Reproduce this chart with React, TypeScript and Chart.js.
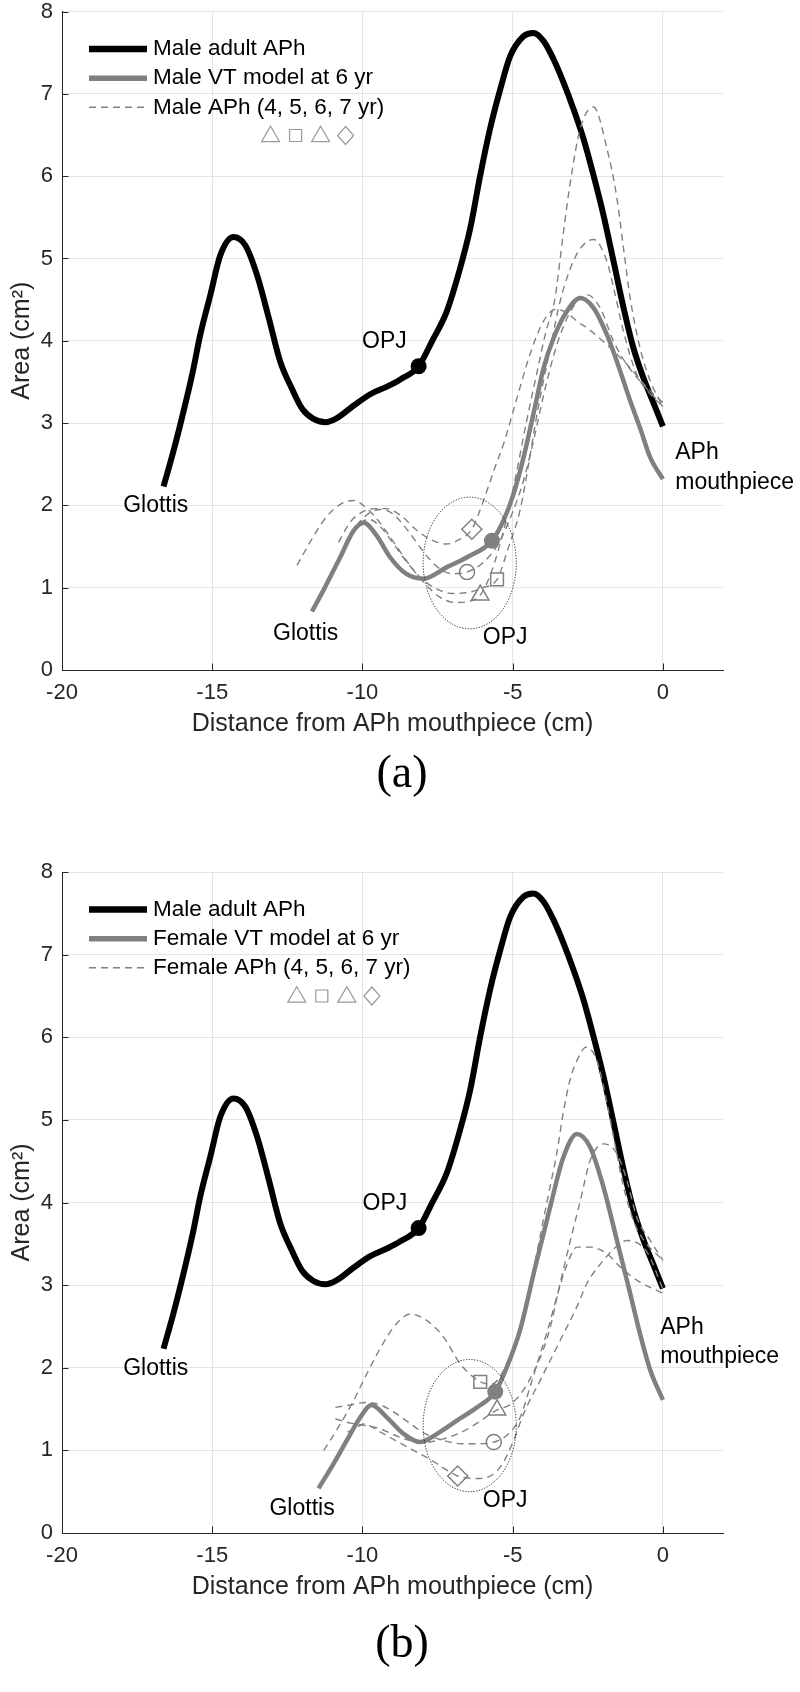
import React, { useEffect, useRef } from 'react';
import { Chart, registerables } from 'chart.js';

Chart.register(...registerables);

type Pt = [number, number];

// ---------- axes ----------
const xTickValues = [-20, -15, -10, -5, 0];
const yTickValues = [0, 1, 2, 3, 4, 5, 6, 7, 8];
const xRange: Pt = [-20, 2];
const yRange: Pt = [0, 8];

// ---------- shared adult curve ----------
const maleAdultAPh: Pt[] = [
  [-16.62, 2.23], [-16.29, 2.66], [-15.95, 3.15], [-15.65, 3.62], [-15.4, 4.07], [-15.06, 4.56],
  [-14.73, 5.04], [-14.29, 5.26], [-13.9, 5.16], [-13.51, 4.8], [-13.12, 4.28], [-12.74, 3.75],
  [-12.35, 3.42], [-12.0, 3.17], [-11.63, 3.05], [-11.23, 3.01], [-10.85, 3.06], [-10.3, 3.21],
  [-9.74, 3.35], [-9.2, 3.44], [-8.74, 3.53], [-8.13, 3.69], [-7.69, 3.99], [-7.19, 4.36],
  [-6.75, 4.88], [-6.41, 5.37], [-6.08, 6.01], [-5.75, 6.58], [-5.41, 7.06], [-5.08, 7.46],
  [-4.64, 7.7], [-4.31, 7.74], [-3.97, 7.64], [-3.64, 7.42], [-3.31, 7.14], [-2.98, 6.82],
  [-2.64, 6.45], [-2.31, 6.01], [-1.98, 5.53], [-1.64, 4.96], [-1.31, 4.4], [-0.98, 3.91],
  [-0.65, 3.55], [-0.32, 3.25], [0, 2.96],
];
const maleAdultOPJ: Pt = [-8.13, 3.69];

// ---------- panel (a): male ----------
const maleVTModel: Pt[] = [
  [-11.68, 0.71], [-11.24, 1.01], [-10.74, 1.37], [-10.3, 1.69], [-9.96, 1.79], [-9.52, 1.63],
  [-9.08, 1.37], [-8.55, 1.17], [-7.97, 1.11], [-7.19, 1.25], [-6.52, 1.37], [-5.69, 1.57],
  [-5.3, 1.82], [-4.97, 2.14], [-4.64, 2.58], [-4.31, 3.11], [-3.97, 3.67], [-3.64, 4.03],
  [-3.19, 4.36], [-2.75, 4.52], [-2.31, 4.4], [-1.86, 4.07], [-1.42, 3.63], [-1.09, 3.27],
  [-0.76, 2.94], [-0.42, 2.58], [0, 2.32],
];
const maleVTOPJ: Pt = [-5.69, 1.57];
const maleAPh4yr: Pt[] = [
  [-12.18, 1.27], [-11.7, 1.58], [-11.2, 1.86], [-10.7, 2.02], [-10.3, 2.06], [-9.9, 1.98],
  [-9.4, 1.78], [-8.9, 1.52], [-8.4, 1.26], [-7.9, 1.04], [-7.4, 0.88], [-6.9, 0.82], [-6.5, 0.83],
  [-6.08, 0.91], [-5.7, 1.2], [-5.3, 1.7], [-4.9, 2.35], [-4.55, 3.0], [-4.2, 3.6], [-3.9, 4.1],
  [-3.6, 4.5], [-3.31, 5.32], [-3.08, 5.93], [-2.75, 6.58], [-2.31, 6.84], [-1.86, 6.33],
  [-1.53, 5.73], [-1.31, 5.12], [-1.09, 4.52], [-0.76, 3.91], [-0.42, 3.51], [0, 3.2],
];
const maleAPh5yr: Pt[] = [
  [-10.9, 1.28], [-10.5, 1.55], [-10.1, 1.77], [-9.8, 1.83], [-9.4, 1.74], [-9.0, 1.55],
  [-8.5, 1.3], [-8.0, 1.1], [-7.5, 0.98], [-7.0, 0.93], [-6.5, 0.94], [-6.0, 1.0], [-5.52, 1.1],
  [-5.14, 1.49], [-4.75, 1.95], [-4.47, 2.5], [-4.19, 3.11], [-3.75, 3.91], [-3.42, 4.48],
  [-3.08, 4.88], [-2.75, 5.12], [-2.31, 5.23], [-1.86, 4.96], [-1.64, 4.64], [-1.31, 4.11],
  [-0.87, 3.59], [-0.31, 3.31], [0, 3.2],
];
const maleAPh6yr: Pt[] = [
  [-10.6, 1.5], [-10.2, 1.75], [-9.8, 1.9], [-9.4, 1.95], [-9.0, 1.9], [-8.5, 1.7], [-8.0, 1.45],
  [-7.5, 1.25], [-7.0, 1.17], [-6.52, 1.19], [-6.0, 1.3], [-5.5, 1.52], [-5.0, 1.92],
  [-4.64, 2.3], [-4.31, 2.78], [-3.86, 3.51], [-3.42, 4.07], [-2.86, 4.48], [-2.53, 4.56],
  [-2.09, 4.4], [-1.64, 3.99], [-1.2, 3.71], [-0.76, 3.51], [0, 3.2],
];
const maleAPh7yr: Pt[] = [
  [-10.8, 1.55], [-10.4, 1.8], [-10.0, 1.92], [-9.6, 1.96], [-9.2, 1.96], [-8.7, 1.87],
  [-8.2, 1.7], [-7.7, 1.58], [-7.2, 1.53], [-6.8, 1.58], [-6.36, 1.71], [-5.97, 2.06],
  [-5.6, 2.45], [-5.3, 2.75], [-4.86, 3.3], [-4.5, 3.75], [-4.19, 4.07], [-3.9, 4.28],
  [-3.6, 4.38], [-3.3, 4.36], [-2.86, 4.24], [-2.4, 4.12], [-1.86, 3.95], [-1.09, 3.67],
  [-0.5, 3.42], [0, 3.25],
];
const maleAPhOPJ: Pt[] = [[-6.08, 0.91], [-5.52, 1.1], [-6.52, 1.19], [-6.36, 1.71]];

// ---------- panel (b): female ----------
const femaleVTModel: Pt[] = [
  [-11.46, 0.54], [-10.96, 0.84], [-10.52, 1.12], [-10.07, 1.4], [-9.7, 1.55], [-9.19, 1.4],
  [-8.63, 1.2], [-8.08, 1.1], [-7.52, 1.2], [-6.86, 1.36], [-6.19, 1.52], [-5.58, 1.71],
  [-5.19, 2.01], [-4.75, 2.46], [-4.25, 3.22], [-3.75, 3.95], [-3.31, 4.55], [-2.86, 4.83],
  [-2.42, 4.67], [-1.98, 4.19], [-1.53, 3.54], [-1.09, 2.9], [-0.76, 2.41], [-0.42, 1.97],
  [0, 1.61],
];
const femaleVTOPJ: Pt = [-5.58, 1.71];
const femaleAPh4yr: Pt[] = [
  [-10.9, 1.38], [-10.4, 1.33], [-9.9, 1.3], [-9.4, 1.26], [-8.9, 1.18], [-8.4, 1.12],
  [-7.9, 1.1], [-7.3, 1.14], [-6.7, 1.22], [-6.1, 1.35], [-5.52, 1.49], [-5.1, 1.55],
  [-4.7, 1.7], [-4.3, 1.95], [-4.0, 2.2], [-3.75, 2.49], [-3.42, 3.02], [-3.08, 3.54],
  [-2.75, 4.02], [-2.42, 4.51], [-1.98, 4.71], [-1.53, 4.59], [-1.2, 4.27], [-0.87, 3.82],
  [-0.42, 3.54], [0, 3.3],
];
const femaleAPh5yr: Pt[] = [
  [-11.29, 1.0], [-10.85, 1.25], [-10.3, 1.6], [-9.74, 2.01], [-9.19, 2.37], [-8.8, 2.56],
  [-8.41, 2.65], [-7.85, 2.57], [-7.3, 2.37], [-6.75, 2.05], [-6.08, 1.83], [-5.7, 1.8],
  [-5.3, 1.97], [-4.95, 2.27], [-4.6, 2.72], [-4.3, 3.2], [-4.0, 3.75], [-3.75, 4.2],
  [-3.53, 4.6], [-3.31, 5.1], [-3.08, 5.5], [-2.86, 5.72], [-2.55, 5.88], [-2.2, 5.72],
  [-1.86, 5.2], [-1.64, 4.79], [-1.31, 4.19], [-0.98, 3.78], [-0.65, 3.55], [0, 3.3],
];
const femaleAPh6yr: Pt[] = [
  [-10.9, 1.52], [-10.4, 1.55], [-9.9, 1.58], [-9.4, 1.55], [-8.9, 1.45], [-8.4, 1.32],
  [-7.9, 1.2], [-7.3, 1.12], [-6.7, 1.08], [-6.1, 1.08], [-5.63, 1.1], [-5.2, 1.18],
  [-4.75, 1.4], [-4.42, 1.77], [-4.1, 2.15], [-3.8, 2.5], [-3.5, 2.9], [-3.19, 3.25],
  [-2.86, 3.46], [-2.42, 3.46], [-1.86, 3.38], [-1.42, 3.22], [-0.87, 3.06], [0, 2.9],
];
const femaleAPh7yr: Pt[] = [
  [-10.5, 1.22], [-10.18, 1.28], [-9.96, 1.32], [-9.4, 1.22], [-8.8, 1.1], [-8.3, 1.0],
  [-7.7, 0.88], [-7.19, 0.76], [-6.83, 0.69], [-6.08, 0.66], [-5.41, 0.8], [-4.97, 1.12],
  [-4.64, 1.44], [-4.08, 1.85], [-3.42, 2.33], [-2.86, 2.74], [-2.53, 3.02], [-1.98, 3.3],
  [-1.6, 3.45], [-1.2, 3.54], [-0.53, 3.4], [0, 2.95],
];
const femaleAPhOPJ: Pt[] = [[-5.52, 1.49], [-6.08, 1.83], [-5.63, 1.1], [-6.83, 0.69]];

// ---------- annotations (data coordinates) ----------
const opjEllipse = [-6.43, 1.3, 1.55, 0.8]; // centre x, centre y, radius x, radius y
const maleNotes = { glottisAdult: [-16.88, 2.0], glottisChild: [-11.89, 0.44], opjAdult: [-9.27, 3.99], opjChild: [-5.25, 0.39], mouthpiece: [0.41, 2.64, 2.27] };
const femaleNotes = { glottisAdult: [-16.88, 1.99], glottisChild: [-12.01, 0.3], opjAdult: [-9.25, 3.99], opjChild: [-5.25, 0.39], mouthpiece: [-0.09, 2.48, 2.14] };

const FONT = "'Liberation Sans', Arial, Helvetica, sans-serif";
const AXIS = '#262626';
const GRAY = '#808080';
const GRID = '#e4e4e4';
const plotMarkers = ['triangle', 'rect', 'circle', 'rectRot'];
const markerRadius = [10, 9, 7.5, 10];

interface PanelSpec {
  vtLabel: string;
  aphLabel: string;
  vt: Pt[];
  vtOPJ: Pt;
  aph: Pt[][];
  aphOPJ: Pt[];
  notes: typeof maleNotes;
  padTop: number;
  padBottom: number;
}

const toXY = (a: Pt[]) => a.map(([x, y]) => ({ x, y }));

function drawLegendMarker(ctx: CanvasRenderingContext2D, kind: string, x: number, y: number) {
  ctx.beginPath();
  if (kind === 'tri') {
    const h = 15.5, w = 18;
    ctx.moveTo(x, y - h * 0.6);
    ctx.lineTo(x + w / 2, y + h * 0.4);
    ctx.lineTo(x - w / 2, y + h * 0.4);
    ctx.closePath();
  } else if (kind === 'sq') {
    ctx.rect(x - 6, y - 6, 12, 12);
  } else {
    ctx.moveTo(x, y - 9);
    ctx.lineTo(x + 8, y);
    ctx.lineTo(x, y + 9);
    ctx.lineTo(x - 8, y);
    ctx.closePath();
  }
  ctx.stroke();
}

function makeOverlay(p: PanelSpec) {
  return {
    id: 'overlay',
    afterDraw(chart: any) {
      const { ctx, chartArea: ca } = chart;
      const xs = chart.scales.x;
      const ys = chart.scales.y;
      const X = (v: number) => xs.getPixelForValue(v);
      const Y = (v: number) => ys.getPixelForValue(v);
      ctx.save();
      // inward tick marks
      ctx.strokeStyle = AXIS;
      ctx.lineWidth = 1;
      ctx.setLineDash([]);
      xTickValues.forEach((v) => {
        const px = Math.round(X(v)) + 0.5;
        ctx.beginPath();
        ctx.moveTo(px, ca.bottom);
        ctx.lineTo(px, ca.bottom - 6.5);
        ctx.stroke();
      });
      yTickValues.forEach((v) => {
        const py = Math.round(Y(v)) + 0.5;
        ctx.beginPath();
        ctx.moveTo(ca.left, py);
        ctx.lineTo(ca.left + 6.5, py);
        ctx.stroke();
      });
      // OPJ ellipse
      const [ecx, ecy, erx, ery] = opjEllipse;
      ctx.beginPath();
      ctx.setLineDash([1.2, 1.6]);
      ctx.lineWidth = 1;
      ctx.strokeStyle = '#1a1a1a';
      ctx.ellipse(X(ecx), Y(ecy), X(ecx + erx) - X(ecx), Y(ecy) - Y(ecy + ery), 0, 0, Math.PI * 2);
      ctx.stroke();
      ctx.setLineDash([]);
      // text annotations
      const n = p.notes;
      ctx.fillStyle = '#000';
      ctx.font = `23px ${FONT}`;
      ctx.textBaseline = 'middle';
      ctx.textAlign = 'center';
      ctx.fillText('Glottis', X(n.glottisAdult[0]), Y(n.glottisAdult[1]));
      ctx.fillText('Glottis', X(n.glottisChild[0]), Y(n.glottisChild[1]));
      ctx.fillText('OPJ', X(n.opjAdult[0]), Y(n.opjAdult[1]));
      ctx.fillText('OPJ', X(n.opjChild[0]), Y(n.opjChild[1]));
      ctx.textAlign = 'left';
      ctx.fillText('APh', X(n.mouthpiece[0]), Y(n.mouthpiece[1]));
      ctx.fillText('mouthpiece', X(n.mouthpiece[0]), Y(n.mouthpiece[2]));
      // legend
      const lx0 = ca.left + 27;
      const lx1 = ca.left + 85;
      const tx = ca.left + 91;
      const rows = [ca.top + 37.5, ca.top + 66.7, ca.top + 95.8];
      ctx.lineCap = 'butt';
      ctx.strokeStyle = '#000';
      ctx.lineWidth = 6.5;
      ctx.beginPath(); ctx.moveTo(lx0, rows[0]); ctx.lineTo(lx1, rows[0]); ctx.stroke();
      ctx.strokeStyle = GRAY;
      ctx.lineWidth = 5.5;
      ctx.beginPath(); ctx.moveTo(lx0, rows[1]); ctx.lineTo(lx1, rows[1]); ctx.stroke();
      ctx.lineWidth = 1.4;
      ctx.setLineDash([7, 5]);
      ctx.beginPath(); ctx.moveTo(lx0, rows[2]); ctx.lineTo(lx1, rows[2]); ctx.stroke();
      ctx.setLineDash([]);
      ctx.font = `22.5px ${FONT}`;
      ctx.fillStyle = '#000';
      ctx.textAlign = 'left';
      ctx.fillText('Male adult APh', tx, rows[0]);
      ctx.fillText(p.vtLabel, tx, rows[1]);
      ctx.fillText(p.aphLabel, tx, rows[2]);
      // legend marker row under the ages
      const kinds = ['tri', 'sq', 'tri', 'dia'];
      ctx.strokeStyle = '#9a9a9a';
      ctx.lineWidth = 1.2;
      ['4', '5', '6', '7'].forEach((d, i) => {
        const idx = p.aphLabel.indexOf(d);
        const mx = tx + ctx.measureText(p.aphLabel.slice(0, idx)).width + ctx.measureText(d).width / 2;
        drawLegendMarker(ctx, kinds[i], mx, ca.top + 124);
      });
      ctx.restore();
    },
  };
}

function buildConfig(p: PanelSpec): any {
  const datasets: any[] = [];
  datasets.push({
    data: toXY(maleAdultAPh), borderColor: '#000', borderWidth: 6, pointRadius: 0,
    cubicInterpolationMode: 'monotone', order: 10, borderJoinStyle: 'round',
  });
  datasets.push({
    data: toXY(p.vt), borderColor: GRAY, borderWidth: 4.5, pointRadius: 0,
    cubicInterpolationMode: 'monotone', order: 9, borderJoinStyle: 'round',
  });
  p.aph.forEach((c) => {
    datasets.push({
      data: toXY(c), borderColor: GRAY, borderWidth: 1.4, borderDash: [7, 5], pointRadius: 0,
      cubicInterpolationMode: 'monotone', order: 8,
    });
  });
  datasets.push({
    data: toXY([maleAdultOPJ]), showLine: false, pointRadius: 8, pointBackgroundColor: '#000',
    pointBorderWidth: 0, order: 2,
  });
  datasets.push({
    data: toXY([p.vtOPJ]), showLine: false, pointRadius: 8, pointBackgroundColor: GRAY,
    pointBorderWidth: 0, order: 2,
  });
  p.aphOPJ.forEach((pt, i) => {
    datasets.push({
      data: toXY([pt]), showLine: false, pointStyle: plotMarkers[i], pointRadius: markerRadius[i],
      pointBorderColor: GRAY, pointBackgroundColor: 'rgba(0,0,0,0)', pointBorderWidth: 1.5, order: 1,
    });
  });

  return {
    type: 'line',
    data: { datasets },
    options: {
      responsive: false,
      animation: false,
      devicePixelRatio: 1,
      layout: { padding: { left: 0, top: p.padTop, right: 77, bottom: p.padBottom } },
      plugins: { legend: { display: false }, tooltip: { enabled: false } },
      elements: { line: { tension: 0 } },
      scales: {
        x: {
          type: 'linear',
          min: xRange[0],
          max: xRange[1],
          afterBuildTicks: (ax: any) => { ax.ticks = xTickValues.map((v) => ({ value: v })); },
          afterFit: (ax: any) => { ax.height = 69; ax.paddingLeft = 0; ax.paddingRight = 0; },
          ticks: { font: { family: FONT, size: 22 }, color: AXIS, padding: 10, maxRotation: 0, autoSkip: false },
          grid: { color: GRID, lineWidth: 1, drawTicks: false },
          border: { display: true, color: AXIS, width: 1 },
          title: { display: true, text: 'Distance from APh mouthpiece (cm)', font: { family: FONT, size: 25 }, color: AXIS, padding: { top: 0, bottom: 0 } },
        },
        y: {
          type: 'linear',
          min: yRange[0],
          max: yRange[1],
          afterBuildTicks: (ax: any) => { ax.ticks = yTickValues.map((v) => ({ value: v })); },
          afterFit: (ax: any) => { ax.width = 62; ax.paddingTop = 0; ax.paddingBottom = 0; },
          ticks: { font: { family: FONT, size: 22 }, color: AXIS, padding: 9, autoSkip: false },
          grid: { color: GRID, lineWidth: 1, drawTicks: false },
          border: { display: true, color: AXIS, width: 1 },
          title: { display: true, text: 'Area (cm²)', font: { family: FONT, size: 25 }, color: AXIS, padding: { top: 7, bottom: 7 } },
        },
      },
    },
    plugins: [makeOverlay(p)],
  };
}

const panelA: PanelSpec = {
  vtLabel: 'Male VT model at 6 yr',
  aphLabel: 'Male APh (4, 5, 6, 7 yr)',
  vt: maleVTModel,
  vtOPJ: maleVTOPJ,
  aph: [maleAPh4yr, maleAPh5yr, maleAPh6yr, maleAPh7yr],
  aphOPJ: maleAPhOPJ,
  notes: maleNotes,
  padTop: 9,
  padBottom: 107,
};

const panelB: PanelSpec = {
  vtLabel: 'Female VT model at 6 yr',
  aphLabel: 'Female APh (4, 5, 6, 7 yr)',
  vt: femaleVTModel,
  vtOPJ: femaleVTOPJ,
  aph: [femaleAPh4yr, femaleAPh5yr, femaleAPh6yr, femaleAPh7yr],
  aphOPJ: femaleAPhOPJ,
  notes: femaleNotes,
  padTop: 26,
  padBottom: 90,
};

function Panel({ spec, top }: { spec: PanelSpec; top: number }) {
  const ref = useRef<HTMLCanvasElement>(null);
  useEffect(() => {
    const chart = new Chart(ref.current as HTMLCanvasElement, buildConfig(spec));
    return () => chart.destroy();
  }, [spec]);
  return (
    <canvas
      ref={ref}
      width={800}
      height={846}
      style={{ position: 'absolute', left: 0, top, width: 800, height: 846, display: 'block' }}
    />
  );
}

const captionStyle = (top: number): React.CSSProperties => ({
  position: 'absolute',
  left: 302,
  top,
  width: 200,
  textAlign: 'center',
  fontFamily: "'Liberation Serif', 'DejaVu Serif', serif",
  fontSize: 46,
  lineHeight: '46px',
  color: '#000',
});

export default function App() {
  return (
    <div style={{ position: 'absolute', left: 0, top: 0, width: 800, height: 1692, background: '#fff', overflow: 'hidden' }}>
      <Panel spec={panelA} top={0} />
      <div style={captionStyle(749)}>(a)</div>
      <Panel spec={panelB} top={846} />
      <div style={captionStyle(1619)}>(b)</div>
    </div>
  );
}
